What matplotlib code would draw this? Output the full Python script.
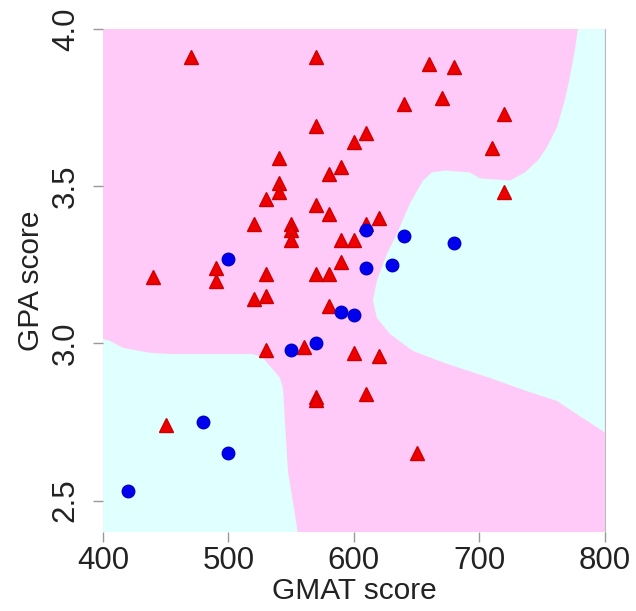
import matplotlib
matplotlib.use("Agg")
import matplotlib.pyplot as plt

plt.rcParams['font.family'] = ['Liberation Sans', 'DejaVu Sans']

# admitted applicants (red triangles)
gmat_admit = [470, 570, 660, 680, 640, 670, 720, 570, 610, 600, 710, 540, 590, 580,
              540, 540, 720, 530, 570, 580, 610, 620, 520, 550, 550, 550, 590, 600,
              590, 440, 490, 490, 530, 570, 580, 520, 530, 580, 530, 560, 600, 620,
              570, 570, 610, 450, 650]
gpa_admit = [3.91, 3.91, 3.89, 3.88, 3.76, 3.78, 3.73, 3.69, 3.67, 3.64, 3.62, 3.59, 3.56, 3.54,
             3.51, 3.48, 3.48, 3.46, 3.44, 3.41, 3.38, 3.40, 3.38, 3.38, 3.36, 3.33, 3.33, 3.33,
             3.26, 3.21, 3.24, 3.20, 3.22, 3.22, 3.22, 3.14, 3.15, 3.12, 2.98, 2.99, 2.97, 2.96,
             2.83, 2.82, 2.84, 2.74, 2.65]

# not admitted (blue circles)
gmat_reject = [610, 640, 680, 630, 610, 500, 590, 600, 550, 570, 480, 500, 420]
gpa_reject = [3.36, 3.34, 3.32, 3.25, 3.24, 3.27, 3.10, 3.09, 2.98, 3.00, 2.75, 2.65, 2.53]

# decision boundary of the "not admitted" zones
right_x = [778.5, 776.1, 772.1, 768.1, 761.8, 753.8, 746.6, 736.3, 724.3, 700.4, 692.4,
           672.5, 662.2, 655.0, 644.6, 634.3, 626.3, 618.3, 615.1, 618.3, 628.7, 647.0,
           674.1, 708.4, 737.8, 761.8, 782.5, 798.4, 800, 800]
right_y = [4.0, 3.933, 3.847, 3.774, 3.687, 3.624, 3.582, 3.544, 3.518, 3.525, 3.544,
           3.550, 3.544, 3.518, 3.445, 3.349, 3.285, 3.199, 3.136, 3.081, 3.030, 2.976,
           2.935, 2.890, 2.848, 2.817, 2.762, 2.721, 2.715, 4.0]
left_x = [400, 405.6, 415.9, 437.5, 453.4, 518.7, 526.7, 531.5, 537.8, 541.0, 543.4,
          545.0, 547.4, 553.0, 555.4, 556, 400]
left_y = [3.014, 3.008, 2.986, 2.970, 2.966, 2.966, 2.957, 2.935, 2.906, 2.890, 2.858,
          2.753, 2.593, 2.456, 2.392, 2.38, 2.38]

fig = plt.figure(figsize=(6.36, 6.11), dpi=100)
ax = fig.add_axes([0.162, 0.1293, 0.789, 0.8232])
ax.set_facecolor('#ffcaf8')
ax.fill(right_x, right_y, color='#e0ffff', lw=0)
ax.fill(left_x, left_y, color='#e0ffff', lw=0)

ax.plot(gmat_admit, gpa_admit, '^', color='#ee0000', markeredgecolor='#cc0000', markersize=10.5)
ax.plot(gmat_reject, gpa_reject, 'o', color='#0000ee', markeredgecolor='#0000cc', markersize=9)

ax.set_xlim(400, 800)
ax.set_ylim(2.4, 4.0)
ax.set_xticks([400, 500, 600, 700, 800])
ax.set_yticks([2.5, 3.0, 3.5, 4.0])
ax.set_yticklabels(['2.5', '3.0', '3.5', '4.0'], rotation=90, va='center')
ax.tick_params(length=7, width=1, color='#999999', labelsize=22.5, labelcolor='#222222')
ax.tick_params(axis='x', pad=3)
ax.tick_params(axis='y', pad=9)
for s in ['top', 'left', 'bottom']:
    ax.spines[s].set_visible(False)
ax.spines['right'].set_color('#bbbbbb')
ax.set_xlabel('GMAT score', fontsize=21.5, color='#222222', labelpad=1)
ax.set_ylabel('GPA score', fontsize=21.5, color='#222222', labelpad=4)

fig.savefig('out.png', dpi=100)
